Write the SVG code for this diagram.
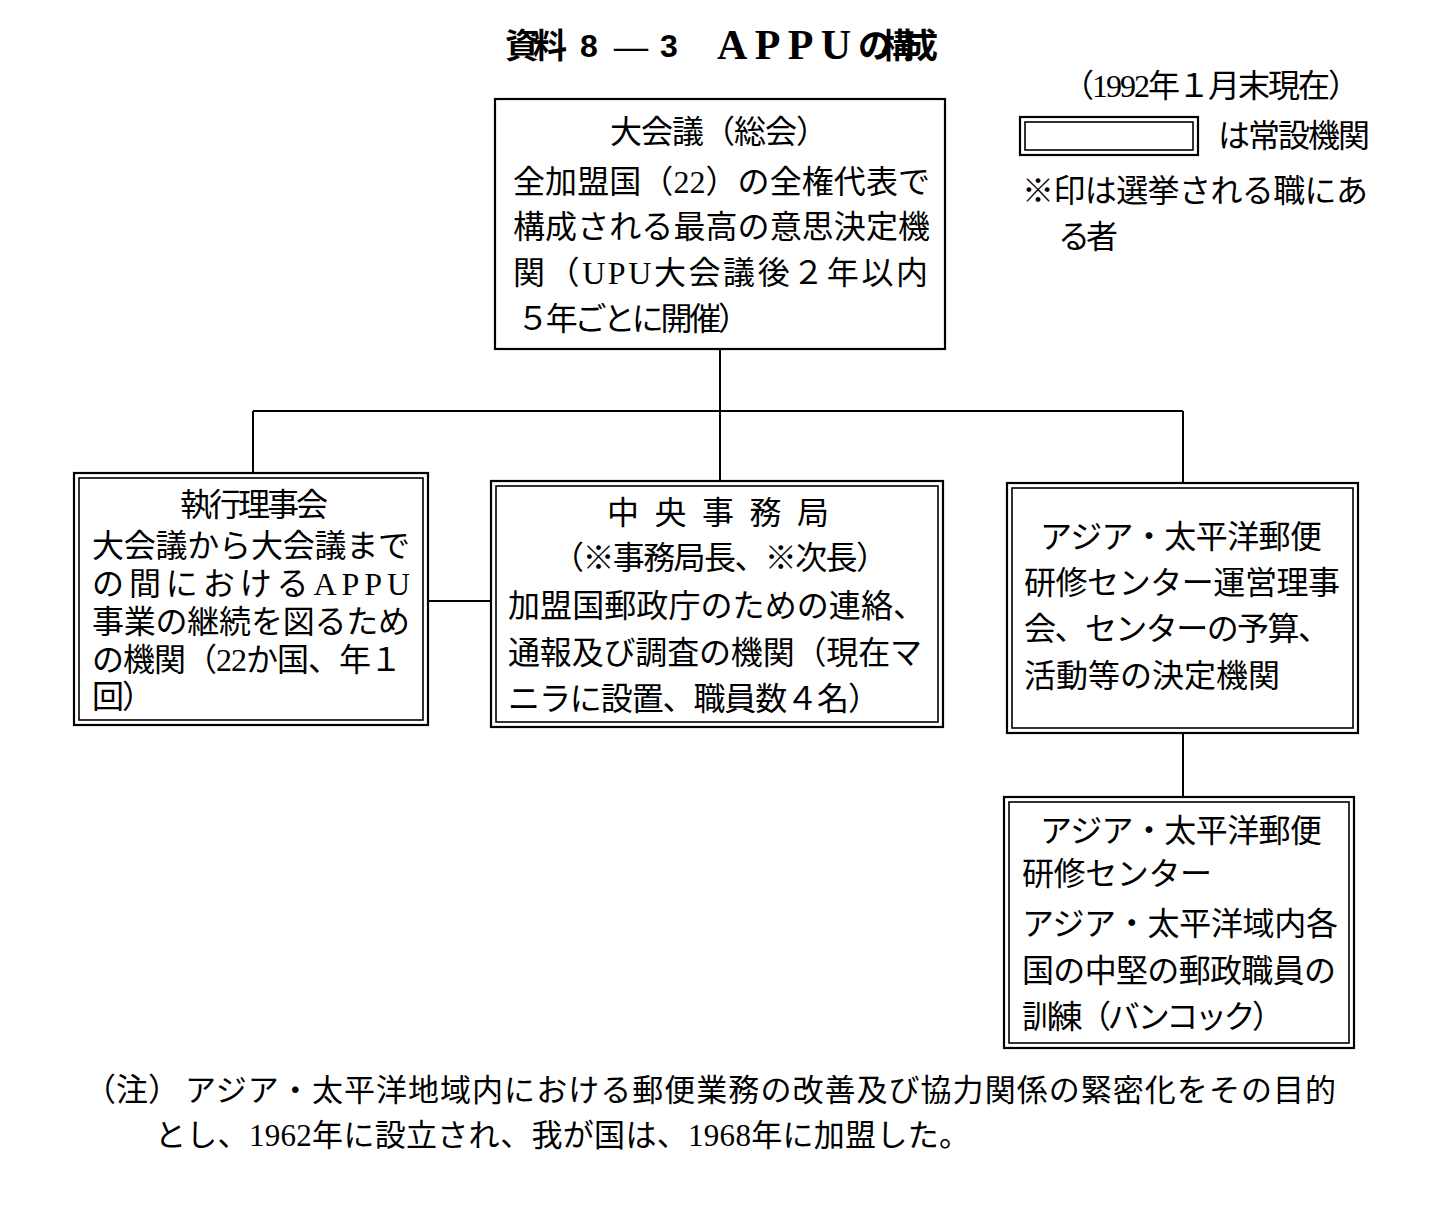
<svg xmlns="http://www.w3.org/2000/svg" width="1434" height="1208" viewBox="0 0 1434 1208">
<style>
text{font-family:"Liberation Serif","Noto Sans CJK JP",serif;font-size:32px;fill:#000}
.title{font-weight:bold;font-size:34px}
.digit{font-family:"Liberation Sans","Noto Sans CJK JP",sans-serif;font-size:32px}
.big{font-size:42px}
.note{font-size:31px}
.outer{fill:#fff;stroke:#000;stroke-width:2.2}
.inner{fill:none;stroke:#000;stroke-width:1.6}
.conn{stroke:#000;stroke-width:2;fill:none}
</style>
<rect width="1434" height="1208" fill="#fff"/>
<g id="title">
<text class="title" x="505" y="58" textLength="62">資料</text>
<text class="title digit" x="580" y="57">8</text>
<text class="title" x="614" y="58" textLength="48">—</text>
<text class="title digit" x="660" y="57">3</text>
<text class="title big" x="717" y="59" textLength="134" style="font-size:42px">APPU</text>
<text class="title" x="858" y="58" textLength="80">の構成</text>
</g>
<g id="legend">
<text x="1062" y="97" textLength="298">（1992年１月末現在）</text>
<rect class="outer" x="1020" y="117" width="178" height="38"/>
<rect class="inner" x="1025" y="122" width="168" height="28"/>
<text x="1218" y="147" textLength="152">は常設機関</text>
<text x="1022" y="202" textLength="346">※印は選挙される職にあ</text>
<text x="1058" y="248" textLength="60">る者</text>
</g>
<g id="connectors">
<path class="conn" d="M720 349V481M253 411H1183M253 411V473M1183 411V483M428 601H491M1183 733V797"/>
</g>
<g id="node-taikaigi">
<rect class="outer" x="495" y="99" width="450" height="250"/>
<text x="610" y="143" textLength="218">大会議（総会）</text>
<text x="513" y="193" textLength="417">全加盟国（22）の全権代表で</text>
<text x="513" y="238" textLength="417">構成される最高の意思決定機</text>
<text x="513" y="284" textLength="415">関（UPU大会議後２年以内</text>
<text x="517" y="330" textLength="233">５年ごとに開催）</text>
</g>
<g id="node-shikko">
<rect class="outer" x="74" y="473" width="354" height="252"/>
<rect class="inner" x="79" y="478" width="344" height="242"/>
<text x="180" y="516" textLength="148">執行理事会</text>
<text x="92" y="557" textLength="318">大会議から大会議まで</text>
<text x="92" y="595" textLength="318">の間におけるAPPU</text>
<text x="92" y="633" textLength="318">事業の継続を図るため</text>
<text x="92" y="671" textLength="310">の機関（22か国、年１</text>
<text x="92" y="708" textLength="62">回）</text>
</g>
<g id="node-jimukyoku">
<rect class="outer" x="491" y="481" width="452" height="246"/>
<rect class="inner" x="496" y="486" width="442" height="236"/>
<text x="607" y="524" textLength="222">中　央　事　務　局</text>
<text x="552" y="569" textLength="336">（※事務局長、※次長）</text>
<text x="508" y="617" textLength="417">加盟国郵政庁のための連絡、</text>
<text x="508" y="664" textLength="414">通報及び調査の機関（現在マ</text>
<text x="508" y="710" textLength="372">ニラに設置、職員数４名）</text>
</g>
<g id="node-uneiriji">
<rect class="outer" x="1007" y="483" width="351" height="250"/>
<rect class="inner" x="1012" y="488" width="341" height="240"/>
<text x="1040" y="548" textLength="282">アジア・太平洋郵便</text>
<text x="1024" y="594" textLength="316">研修センター運営理事</text>
<text x="1024" y="640" textLength="306">会、センターの予算、</text>
<text x="1024" y="687" textLength="256">活動等の決定機関</text>
</g>
<g id="node-center">
<rect class="outer" x="1004" y="797" width="350" height="251"/>
<rect class="inner" x="1009" y="802" width="340" height="241"/>
<text x="1040" y="842" textLength="282">アジア・太平洋郵便</text>
<text x="1022" y="885" textLength="190">研修センター</text>
<text x="1022" y="935" textLength="316">アジア・太平洋域内各</text>
<text x="1022" y="982" textLength="314">国の中堅の郵政職員の</text>
<text x="1022" y="1028" textLength="262">訓練（バンコック）</text>
</g>
<g id="note">
<text x="84" y="1101" font-size="30">（注）</text>
<text class="note" x="185" y="1101" textLength="1151">アジア・太平洋地域内における郵便業務の改善及び協力関係の緊密化をその目的</text>
<text class="note" x="155" y="1146" textLength="815">とし、1962年に設立され、我が国は、1968年に加盟した。</text>
</g>
</svg>
